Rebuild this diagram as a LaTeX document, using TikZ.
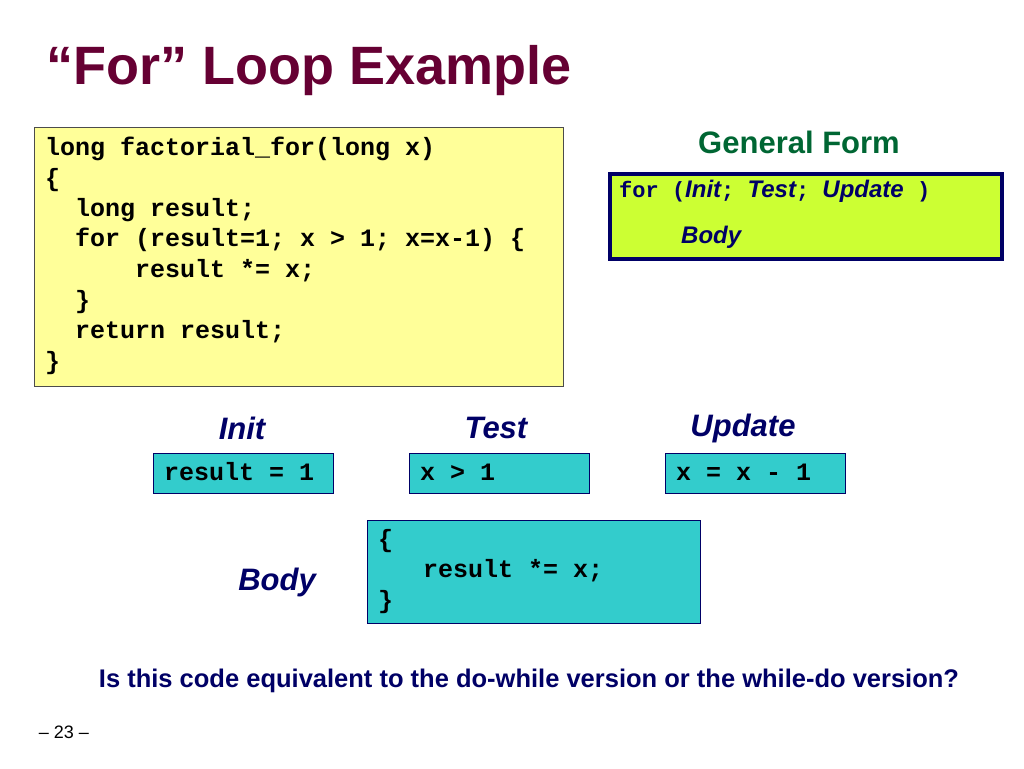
\documentclass[tikz,border=0pt]{standalone}
\usepackage{fontspec}
\setmainfont{Liberation Sans}
\setmonofont{Liberation Mono}
\begin{document}
\begin{tikzpicture}[x=1pt,y=-1pt,
  code/.style={anchor=west,inner sep=0pt,font=\fontsize{25}{25}\selectfont\ttfamily\bfseries},
  lbl/.style={inner sep=0pt,text=navy,font=\fontsize{31}{31}\selectfont\bfseries\itshape},
  tbox/.style={draw=navy,line width=1.2pt,fill=teal1}]
\definecolor{navy}{HTML}{000066}
\definecolor{teal1}{HTML}{33CCCC}
\definecolor{maroon}{HTML}{660033}
\definecolor{yel}{HTML}{FFFF99}
\definecolor{lime}{HTML}{CCFF33}
\definecolor{dgreen}{HTML}{006633}
\useasboundingbox (0,0) rectangle (1024,768);
\node[anchor=west,inner sep=0pt,text=maroon,font=\fontsize{54}{54}\selectfont\bfseries] (title) at (46,71) {“For” Loop Example};
\node[draw=black!70,line width=1pt,fill=yel,minimum width=529pt,minimum height=259pt,anchor=north west] (codebox) at (34,127) {};
\node[code] (c1) at (45,149) {long factorial\_for(long x)};
\node[code] (c2) at (45,180) {\{};
\node[code] (c3) at (45,210) {\ \ long result;};
\node[code] (c4) at (45,240) {\ \ for (result=1; x > 1; x=x-1) \{};
\node[code] (c5) at (45,271) {\ \ \ \ \ \ result *= x;};
\node[code] (c6) at (45,302) {\ \ \}};
\node[code] (c7) at (45,332) {\ \ return result;};
\node[code] (c8) at (45,363) {\}};
\node[inner sep=0pt,text=dgreen,font=\fontsize{31}{31}\selectfont\bfseries] (gf) at (799,142) {General Form};
\node[draw=navy,line width=4pt,fill=lime,minimum width=392pt,minimum height=85pt,anchor=north west] (gfbox) at (608,172) {};
\node[anchor=west,inner sep=0pt,text=navy] (gfl1) at (619,191) {{\fontsize{22}{22}\selectfont\ttfamily\bfseries for (}{\fontsize{24}{24}\selectfont\bfseries\itshape Init}{\fontsize{22}{22}\selectfont\ttfamily\bfseries ; }{\fontsize{24}{24}\selectfont\bfseries\itshape Test}{\fontsize{22}{22}\selectfont\ttfamily\bfseries ; }{\fontsize{24}{24}\selectfont\bfseries\itshape Update}{\fontsize{22}{22}\selectfont\ttfamily\bfseries\ )}};
\node[anchor=west,inner sep=0pt,text=navy,font=\fontsize{24}{24}\selectfont\bfseries\itshape] (gfl2) at (681,237) {Body};
\node[lbl] (linit) at (242,428) {Init};
\node[lbl] (ltest) at (496,428) {Test};
\node[lbl] (lupd) at (743,428) {Update};
\node[tbox,minimum width=180pt,minimum height=40pt,anchor=north west] (binit) at (153,453) {};
\node[tbox,minimum width=180pt,minimum height=40pt,anchor=north west] (btest) at (409,453) {};
\node[tbox,minimum width=180pt,minimum height=40pt,anchor=north west] (bupd) at (665,453) {};
\node[code] at (164,472) {result = 1};
\node[code] at (420,472) {x > 1};
\node[code] at (676,472) {x = x - 1};
\node[tbox,minimum width=333pt,minimum height=103pt,anchor=north west] (bbody) at (367,520) {};
\node[code] at (378,541) {\{};
\node[code] at (378,571) {\ \ \ result *= x;};
\node[code] at (378,602) {\}};
\node[lbl] (lbody) at (277,582) {Body};
\node[inner sep=0pt,text=navy,font=\fontsize{25.5}{25.5}\selectfont\bfseries] (q) at (529,681) {Is this code equivalent to the do-while version or the while-do version?};
\node[inner sep=0pt,font=\fontsize{18}{18}\selectfont] (pg) at (64,732) {– 23 –};
\end{tikzpicture}
\end{document}
